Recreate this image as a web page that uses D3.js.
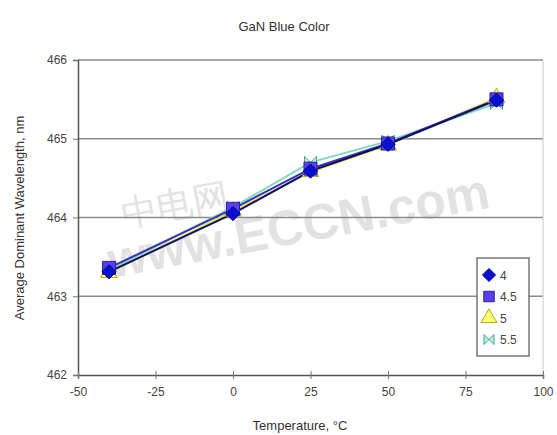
<!DOCTYPE html>
<html><head><meta charset="utf-8">
<script src="https://cdn.jsdelivr.net/npm/d3@7"></script>
<style>body{margin:0;background:#fff}svg{display:block}text{font-family:"Liberation Sans",Arial,sans-serif}</style>
</head><body><svg id="c" width="557" height="435"></svg>
<script>
const temps = [-40, 0, 25, 50, 85];
const seriesNames = ["4", "4.5", "5", "5.5"];
const s4  = [463.31, 464.05, 464.59, 464.93, 465.49];
const s45 = [463.36, 464.11, 464.62, 464.94, 465.50];
const s5  = [463.30, 464.08, 464.58, 464.92, 465.52];
const s55 = [463.33, 464.13, 464.70, 464.97, 465.45];
const xTicks = [-50, -25, 0, 25, 50, 75, 100];
const yTicks = [462, 463, 464, 465, 466];

const svg = d3.select("#c");
const L = 78, R = 543, T = 60, B = 375;
const x = d3.scaleLinear().domain([-50, 100]).range([L, R]);
const y = d3.scaleLinear().domain([462, 466]).range([B, T]);

// watermark
const wm = svg.append("g").attr("transform", "translate(0,-40) rotate(-10.5 290 240)").attr("fill", "#e2e2e2");
wm.append("text").attr("x", 122).attr("y", 236).attr("font-size", 36).attr("font-family", "Noto Sans CJK SC").text("中电网");
wm.append("text").attr("x", 100).attr("y", 284).attr("font-size", 50).attr("font-weight", "bold")
  .attr("font-family", "Liberation Sans").text("www.ECCN.com");

// grid
svg.append("g").selectAll("line").data(yTicks.slice(1)).join("line")
  .attr("x1", L).attr("x2", R).attr("y1", d => y(d)).attr("y2", d => y(d))
  .attr("stroke", "#8a8a8a").attr("stroke-width", 1.5);
svg.append("line").attr("x1", R).attr("x2", R).attr("y1", T).attr("y2", B).attr("stroke", "#c8c8c8");

// axes
const yAx = svg.append("g").attr("transform", `translate(${L},0)`)
  .call(d3.axisLeft(y).tickValues(yTicks).tickSize(5).tickPadding(6).tickFormat(d => String(d)));
const xAx = svg.append("g").attr("transform", `translate(0,${B})`)
  .call(d3.axisBottom(x).tickValues(xTicks).tickSize(4).tickPadding(8).tickFormat(d => String(d)));
[yAx, xAx].forEach(g => {
  g.select(".domain").attr("stroke", "#555").attr("stroke-width", 1.5);
  g.selectAll(".tick line").attr("stroke", "#777");
  g.selectAll("text").attr("fill", "#444").attr("font-size", 12);
});
xAx.selectAll(".tick line").attr("y1", -4);

// series
const series = [
  {name: seriesNames[0], vals: s4,  line: "#101060", fill: "#0a10d0", stroke: "#06088a", shape: d3.symbolDiamond2 || d3.symbolDiamond, size: 130},
  {name: seriesNames[1], vals: s45, line: "#3a30c0", fill: "#5b3fe6", stroke: "#3020a0", shape: d3.symbolSquare, size: 170},
  {name: seriesNames[2], vals: s5,  line: "#e6e640", fill: "#ffff70", stroke: "#a8a820", shape: d3.symbolTriangle, size: 120},
  {name: seriesNames[3], vals: s55, line: "#80d8c0", fill: "#c0f0e0", stroke: "#40a890", shape: "bowtie", size: 120}
];
const line = d3.line().x(d => x(d[0])).y(d => y(d[1]));
const bowtie = "M-6,-6L6,6L6,-6L-6,6Z";
function sym(s) {
  if (s.shape === "bowtie") return bowtie;
  return d3.symbol().type(s.shape).size(s.size)();
}
[...series].reverse().forEach(s => {
  svg.append("path").datum(temps.map((t, i) => [t, s.vals[i]]))
    .attr("d", line).attr("fill", "none").attr("stroke", s.line).attr("stroke-width", 2);
});
[series[3], series[2], series[1], series[0]].forEach(s => {
  svg.append("g").selectAll("path").data(temps.map((t, i) => [t, s.vals[i]])).join("path")
    .attr("transform", d => `translate(${x(d[0])},${y(d[1])})`)
    .attr("d", sym(s)).attr("fill", s.fill).attr("stroke", s.stroke).attr("stroke-width", 1);
});

// legend
const lg = svg.append("g");
lg.append("rect").attr("x", 477).attr("y", 258).attr("width", 52).attr("height", 98)
  .attr("fill", "#fff").attr("stroke", "#555").attr("stroke-width", 1.2);
series.forEach((s, i) => {
  const cy = 275 + i * 21.5;
  lg.append("path").attr("transform", `translate(489,${cy})`)
    .attr("d", s.shape === "bowtie" ? "M-5,-5L5,5L5,-5L-5,5Z" : d3.symbol().type(s.shape).size(110)())
    .attr("fill", s.fill).attr("stroke", s.stroke);
  lg.append("text").attr("x", 500).attr("y", cy + 4.5).attr("font-size", 12).attr("fill", "#444").text(s.name);
});

// titles
svg.append("text").attr("x", 284).attr("y", 31).attr("text-anchor", "middle").attr("font-size", 13).attr("fill", "#333").text("GaN Blue Color");
svg.append("text").attr("x", 300).attr("y", 430).attr("text-anchor", "middle").attr("font-size", 13).attr("fill", "#333").text("Temperature, °C");
svg.append("text").attr("transform", "translate(24,218) rotate(-90)").attr("text-anchor", "middle").attr("font-size", 13).attr("fill", "#333").text("Average Dominant Wavelength, nm");
</script></body></html>
